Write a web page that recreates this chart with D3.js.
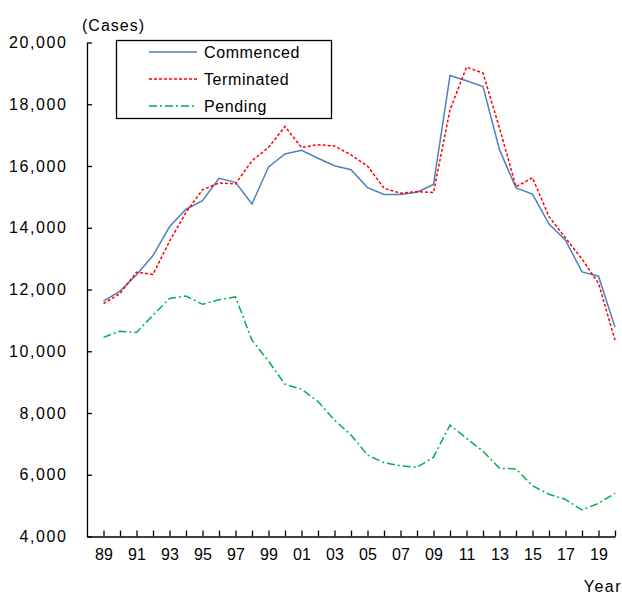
<!DOCTYPE html>
<html>
<head>
<meta charset="utf-8">
<script src="https://cdn.jsdelivr.net/npm/d3@7"></script>
<style>
  body { margin: 0; background: #fff; }
  svg { display: block; font-family: "Liberation Sans", Arial, sans-serif; }
</style>
</head>
<body>
<svg id="svg"></svg>
<script>
// values
let years = [1989, 1990, 1991, 1992, 1993, 1994, 1995, 1996, 1997, 1998, 1999, 2000,
    2001, 2002, 2003, 2004, 2005, 2006, 2007, 2008, 2009, 2010, 2011, 2012,
    2013, 2014, 2015, 2016, 2017, 2018, 2019, 2020];

let commenced = [11620, 11950, 12480, 13100, 14030, 14600, 14880, 15600, 15470, 14770, 15970, 16390,
    16510, 16250, 16010, 15880, 15300, 15080, 15080, 15150, 15400, 18930, 18760, 18570,
    16530, 15290, 15090, 14120, 13600, 12570, 12430, 10780];

let terminated = [11540, 11870, 12560, 12490, 13560, 14500, 15230, 15450, 15420, 16170, 16600, 17280,
    16600, 16690, 16650, 16360, 16000, 15280, 15120, 15170, 15140, 17820, 19200, 19010,
    17230, 15330, 15620, 14360, 13670, 12990, 12200, 10360];

let pending = [10450, 10650, 10610, 11170, 11710, 11790, 11520, 11670, 11760, 10360, 9680, 8930,
    8770, 8370, 7770, 7290, 6640, 6390, 6290, 6240, 6570, 7610, 7180, 6760,
    6210, 6190, 5640, 5370, 5200, 4860, 5075, 5400];

let yTicks = [4000, 6000, 8000, 10000, 12000, 14000, 16000, 18000, 20000];
let seriesNames = ["Commenced", "Terminated", "Pending"];

const width = 622;
const height = 597;

let svg = d3.select("#svg").attr("width", width).attr("height", height);

let xScale = d3.scaleLinear().domain([1988, 2020]).range([87, 615]);
let yScale = d3.scaleLinear().domain([4000, 20000]).range([536.5, 42.5]);

let series = [
    { name: seriesNames[0], values: commenced, color: "#4f81bd", dash: null },
    { name: seriesNames[1], values: terminated, color: "#ff0000", dash: "3,2" },
    { name: seriesNames[2], values: pending, color: "#00b050", dash: "8,3,2,3" }
];

// y axis
let yAxis = svg.append("g")
    .attr("transform", "translate(" + xScale.range()[0] + ",0)")
    .call(d3.axisLeft(yScale)
        .tickValues(yTicks)
        .tickFormat(d3.format(","))
        .tickSizeInner(-5)
        .tickSizeOuter(0)
        .tickPadding(19.5));

yAxis.selectAll(".tick text").style("letter-spacing", "1.6px");

// x axis, a tick every year, label every other year
let xAxis = svg.append("g")
    .attr("transform", "translate(0," + yScale.range()[0] + ")")
    .call(d3.axisBottom(xScale)
        .tickValues(years)
        .tickFormat(d => (d % 2 == 1) ? String(d).slice(2) : "")
        .tickSizeInner(-6)
        .tickSizeOuter(0)
        .tickPadding(12));

svg.selectAll(".tick text")
    .style("font-size", "16px")
    .style("fill", "#000");
svg.selectAll(".domain, .tick line")
    .attr("stroke", "#000")
    .attr("stroke-width", 1.3);

// lines
let line = d3.line()
    .x((d, i) => xScale(years[i]))
    .y(d => yScale(d));

for (let s of series) {
    svg.append("path")
        .datum(s.values)
        .attr("fill", "none")
        .attr("stroke", s.color)
        .attr("stroke-width", 1.5)
        .attr("stroke-dasharray", s.dash)
        .attr("d", line);
}

// axis titles
svg.append("text")
    .attr("x", 82)
    .attr("y", 30.5)
    .style("font-size", "16px")
    .style("letter-spacing", "1px")
    .text("(Cases)");

svg.append("text")
    .attr("x", 622)
    .attr("y", 592)
    .attr("text-anchor", "end")
    .style("font-size", "16px")
    .style("letter-spacing", "1.5px")
    .text("Year");

// legend
let legend = svg.append("g");
legend.append("rect")
    .attr("x", 116.5)
    .attr("y", 40.5)
    .attr("width", 215)
    .attr("height", 78)
    .attr("fill", "#fff")
    .attr("stroke", "#000")
    .attr("stroke-width", 1.3);

series.forEach((s, i) => {
    let ly = 52 + i * 27;
    legend.append("line")
        .attr("x1", 149)
        .attr("x2", 197)
        .attr("y1", ly)
        .attr("y2", ly)
        .attr("stroke", s.color)
        .attr("stroke-width", 1.5)
        .attr("stroke-dasharray", s.dash);
    legend.append("text")
        .attr("x", 204)
        .attr("y", ly + 6)
        .style("font-size", "16px")
        .style("letter-spacing", "0.6px")
        .text(s.name);
});
</script>
</body>
</html>
